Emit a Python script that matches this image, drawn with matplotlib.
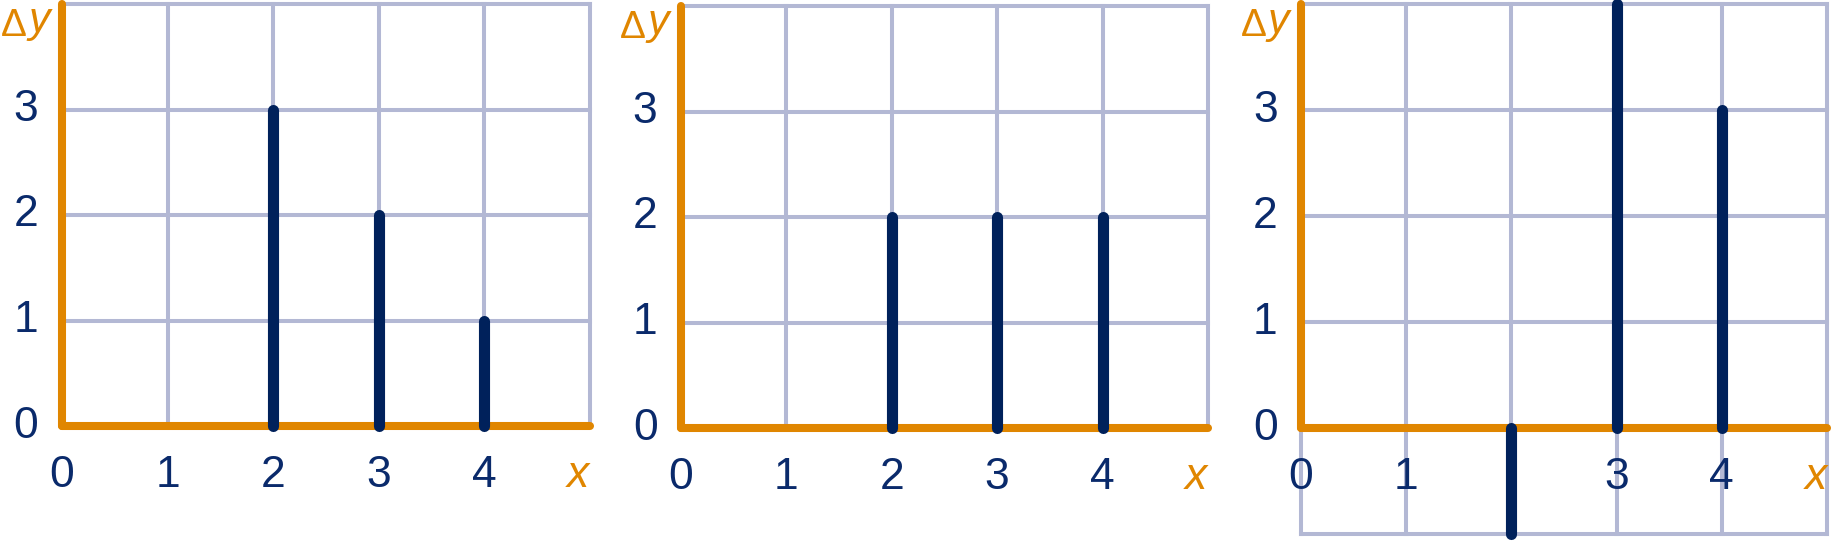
import numpy as np
import matplotlib
matplotlib.use("Agg")
import matplotlib.pyplot as plt

# dados dos tres paineis
xs = [2, 3, 4]
dy_paineis = [
    [3, 2, 1],
    [2, 2, 2],
    [-1, 4, 3],
]
ymin_paineis = [0, 0, -1]
xlabels_paineis = [
    ["0", "1", "2", "3", "4"],
    ["0", "1", "2", "3", "4"],
    ["0", "1", "", "3", "4"],
]
ylabels = ["0", "1", "2", "3"]

laranja = "#E08600"
grade = "#B3B8D4"
azul = "#00215B"
azul_txt = "#0A2A6B"

plt.rcParams['font.family'] = ['Liberation Sans', 'DejaVu Sans']

fig = plt.figure(figsize=(18.36, 5.41), dpi=100)

W, H = 1836.0, 541.0
# posicao (px) do eixo y, borda direita, linha y=0 e unidade vertical
paineis = [
    (62, 590, 426, 105.5),
    (681, 1208, 428, 105.5),
    (1301, 1827, 428, 106.0),
]

for k, (x0, x1, y0, uy) in enumerate(paineis):
    ymin = ymin_paineis[k]
    ytop = y0 - 4 * uy
    ybot = y0 - ymin * uy
    ax = fig.add_axes([x0 / W, 1 - ybot / H, (x1 - x0) / W, (ybot - ytop) / H])
    ax.set_xlim(0, 5)
    ax.set_ylim(ymin, 4)
    ax.axis('off')

    # grade
    for gx in range(0, 6):
        ax.plot([gx, gx], [ymin, 4], color=grade, lw=2.9, clip_on=False, zorder=1,
                solid_capstyle='projecting')
    for gy in range(ymin, 5):
        ax.plot([0, 5], [gy, gy], color=grade, lw=2.9, clip_on=False, zorder=1,
                solid_capstyle='projecting')

    # eixos laranja
    ax.plot([0, 0], [0, 4], color=laranja, lw=5.8, solid_capstyle='round',
            clip_on=False, zorder=2)
    ax.plot([0, 5], [0, 0], color=laranja, lw=5.8, solid_capstyle='round',
            clip_on=False, zorder=2)

    # barras
    for x, dy in zip(xs, dy_paineis[k]):
        ax.plot([x, x], [0, dy], color=azul, lw=8, solid_capstyle='round',
                clip_on=False, zorder=3)

    # rotulos
    for i, lab in enumerate(xlabels_paineis[k]):
        ax.text(i, -0.47, lab, ha='center', va='center', fontsize=32,
                color=azul_txt, clip_on=False)
    for i, lab in enumerate(ylabels):
        ax.text(-0.34, i, lab, ha='center', va='center', fontsize=32,
                color=azul_txt, clip_on=False)
    ax.text(4.89, -0.47, "x", ha='center', va='center', fontsize=32,
            color=laranja, style='italic', clip_on=False)
    ax.text(-0.33, 3.70, "Δ", ha='right', va='baseline', fontsize=28,
            color=laranja, clip_on=False)
    ax.text(-0.32, 3.73, "y", ha='left', va='baseline', fontsize=31,
            color=laranja, style='italic', clip_on=False)

fig.savefig("out.png", dpi=100)
